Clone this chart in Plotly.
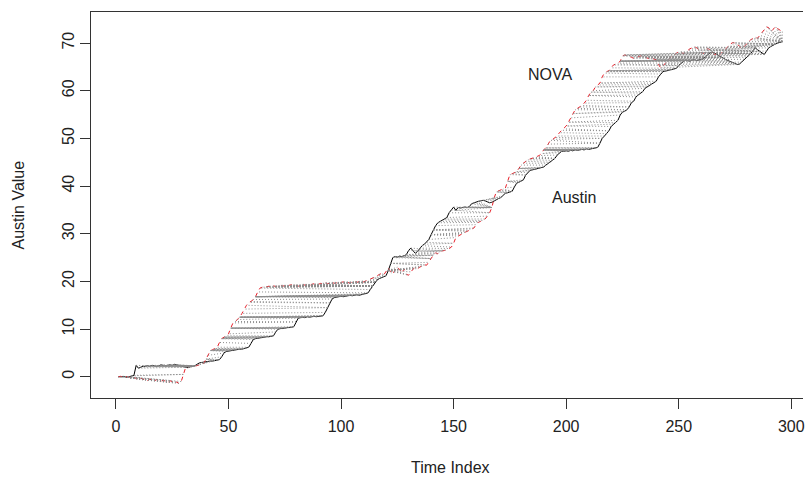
import numpy as np
import plotly.graph_objects as go

# Austin (query) and NOVA (reference) series, one value per time index
austin = [
    0.0, 0.0, 0.1, 0.0, -0.1, 0.0, 0.2, 0.3,
    2.4, 1.8, 2.0, 2.2,
    2.2, 2.3, 2.2, 2.4, 2.3, 2.2, 2.3, 2.5, 2.4, 2.3, 2.4, 2.5, 2.4, 2.6, 2.5, 2.4, 2.3, 2.2, 2.0, 1.9, 2.1, 2.2, 2.3,
    2.6, 2.9, 3.0, 3.1, 3.1,
    3.2, 3.3, 3.3, 3.4, 3.5, 3.6,
    4.2, 5.0, 5.3,
    5.4, 5.5, 5.6, 5.6, 5.7, 5.8, 5.8, 5.9, 6.0, 6.2,
    7.0, 7.8, 8.0,
    8.1, 8.2, 8.2, 8.3, 8.4, 8.4, 8.5, 8.6,
    9.4, 10.0,
    10.1, 10.1, 10.2, 10.3, 10.3, 10.4, 10.5,
    11.5, 12.3,
    12.4, 12.5, 12.4, 12.6, 12.5, 12.6, 12.7, 12.6, 12.7, 12.8, 12.8,
    13.5, 14.5, 15.5, 16.3, 16.6,
    16.7, 16.8, 16.9, 16.8, 16.9, 17.0, 17.1, 17.0, 17.1, 17.2, 17.1, 17.2, 17.3, 17.4, 17.6,
    18.3, 19.0, 19.8, 20.3, 20.6, 20.8, 21.0, 21.2,
    22.3, 23.8, 25.0, 25.2, 25.1, 25.3, 25.2, 25.4, 25.6,
    26.5, 27.0, 26.4, 25.9, 26.3, 27.0, 27.5, 27.8, 28.2,
    28.8, 29.8, 30.8, 31.7, 32.3, 32.6, 32.9, 33.1, 33.4,
    34.4, 35.0, 35.6, 34.9, 35.5, 35.4, 35.5, 35.6, 35.5, 35.7,
    36.3, 36.5, 36.6, 36.8, 36.9, 37.0, 36.9, 36.7, 36.5, 36.6, 36.9, 37.2, 37.4,
    37.6, 38.0, 38.5, 38.6, 38.7, 38.9, 39.8, 40.6, 40.8, 41.0, 41.3,
    42.3, 42.9, 43.3, 43.4, 43.5, 43.6, 43.8, 43.9, 44.0, 44.4, 44.8,
    45.0, 45.4, 45.8, 46.5, 47.0, 47.3,
    47.3, 47.4, 47.3, 47.5, 47.4, 47.6, 47.5, 47.6, 47.7, 47.6, 47.8, 47.7, 47.8, 47.9, 48.0, 48.1,
    49.0, 50.0, 50.5, 51.0, 51.6, 52.5, 53.0, 53.3, 53.8,
    54.9, 55.5, 55.7, 56.0, 56.6, 57.5, 57.8, 58.7, 59.1, 59.5,
    59.8, 60.5, 60.8, 61.0, 61.3, 61.6, 62.0, 62.9, 63.5, 64.0,
    64.1, 64.2, 64.3, 64.4, 64.5, 64.7, 65.3, 65.8, 66.1, 66.4,
    66.3, 66.2, 66.4, 66.5, 66.3, 66.4, 66.6, 66.7, 67.2, 67.7, 68.0,
    68.1, 67.9, 67.6, 67.3, 67.0, 66.8, 66.5, 66.3, 66.1, 65.9, 65.7,
    65.5, 65.6, 66.0, 66.6, 67.0, 67.3, 67.8, 68.4, 69.0, 68.6, 68.2, 67.8,
    67.6, 68.3, 69.0, 69.3, 69.6, 69.8, 70.0, 70.2, 70.3,
]

nova = [
    0.0, 0.1, 0.0, 0.1, 0.0, -0.1, 0.0, -0.2,
    -0.3, -0.5, -0.2, -0.6, -0.4, -0.8, -0.5, -0.7, -0.9, -0.6, -0.8, -1.0, -0.7, -0.9, -1.2, -0.8, -1.0, -1.3, -1.1, -1.4, -1.0,
    0.5, 2.0, 2.1, 2.2, 2.3, 2.2, 2.4, 2.5, 2.6, 2.8,
    3.7, 4.5, 5.5, 5.7, 5.9, 6.2, 7.2, 8.0, 8.3, 8.6, 9.0,
    10.2, 11.3, 11.6, 12.0, 12.5, 13.3, 14.2, 15.0, 15.6, 15.8, 16.2, 16.8, 17.8, 18.6,
    18.8, 18.7, 18.9, 19.0, 18.8, 19.1, 18.9, 19.0, 19.2, 19.0,
    19.1, 18.9, 19.2, 19.3, 19.1, 19.2, 19.0, 19.3, 19.4, 19.2,
    19.3, 19.1, 19.4, 19.5, 19.3, 19.4, 19.6, 19.5, 19.7, 19.5,
    19.6, 19.8, 19.6, 19.7, 19.5, 19.8, 19.9, 19.7, 19.8, 19.6,
    19.9, 20.0, 19.8, 20.0, 20.1, 19.9, 20.1, 20.2,
    20.4, 20.7, 20.9, 21.2, 21.5, 21.7,
    21.4, 22.2, 22.8, 22.0, 21.6, 22.4, 23.0, 22.5, 21.8, 22.6, 21.5, 21.3, 22.0, 22.6, 22.9, 22.7, 23.0,
    23.2, 23.5, 23.4, 24.0, 24.8, 25.5, 26.0, 25.8, 26.2, 26.4, 26.5, 26.6, 26.9, 27.2,
    28.0, 29.2, 29.5, 29.8, 30.1, 30.3, 30.5, 30.7, 31.0, 31.2,
    31.9, 32.4, 32.6, 32.8, 33.1, 33.7, 34.4, 35.5, 37.5, 38.8,
    39.0, 39.2, 39.4, 39.6, 41.0, 42.4, 42.6, 42.8, 43.0, 43.7, 44.4, 44.8, 45.2,
    45.5, 45.7, 45.8, 46.0, 46.2, 46.4, 46.8, 47.6, 48.0, 48.8, 49.6,
    49.8, 50.2, 50.5, 51.2, 51.7, 52.0, 52.6, 53.4, 54.3, 55.2, 56.0,
    56.3, 56.6, 56.9, 57.4, 58.0, 59.0, 59.7, 60.0, 60.8, 61.2, 61.6,
    62.9, 63.7, 64.0, 64.2, 64.8, 65.4, 65.6, 65.8, 66.2, 67.3, 67.5,
    67.4, 67.2, 67.0, 66.8, 66.9, 67.1, 67.3, 67.2, 67.0, 66.9, 66.7, 66.8, 66.6, 66.5,
    65.5, 64.8, 65.2, 65.8, 66.4, 66.8, 67.2, 67.6, 67.9, 68.2, 68.0, 67.8, 68.1, 68.5, 68.8,
    69.0, 69.2, 69.0, 68.5, 68.0, 67.8, 68.4, 68.9, 68.4, 67.9, 67.6,
    67.8, 67.5, 67.9, 68.3, 68.8, 69.3, 69.8, 70.1, 70.0, 69.8, 69.3, 68.9, 69.2, 69.8,
    70.3, 70.7, 71.0, 71.2, 71.0, 71.6, 72.2, 72.8, 73.4, 73.2, 72.4, 72.9, 73.5, 73.0, 72.6, 72.4,
]

x_ticks = [0, 50, 100, 150, 200, 250, 300]
y_ticks = [0, 10, 20, 30, 40, 50, 60, 70]


def dtw_path(q, r):
    """Symmetric2 dynamic time warping; returns the list of matched (i, j)."""
    n, m = len(q), len(r)
    d = [[abs(a - b) for b in r] for a in q]
    inf = float("inf")
    g = [[inf] * m for _ in range(n)]
    g[0][0] = d[0][0]
    for i in range(n):
        gi, di = g[i], d[i]
        gp = g[i - 1] if i > 0 else None
        for j in range(m):
            if i == 0 and j == 0:
                continue
            c = di[j]
            best = inf
            if gp is not None:
                best = gp[j] + c
                if j > 0 and gp[j - 1] + 2 * c < best:
                    best = gp[j - 1] + 2 * c
            if j > 0 and gi[j - 1] + c < best:
                best = gi[j - 1] + c
            gi[j] = best
    i, j = n - 1, m - 1
    path = [(i, j)]
    while i > 0 or j > 0:
        cands = []
        if i > 0 and j > 0:
            cands.append((g[i - 1][j - 1], i - 1, j - 1))
        if i > 0:
            cands.append((g[i - 1][j], i - 1, j))
        if j > 0:
            cands.append((g[i][j - 1], i, j - 1))
        _, i, j = min(cands)
        path.append((i, j))
    return path[::-1]


t_a = list(range(1, len(austin) + 1))
t_n = list(range(1, len(nova) + 1))

seg_x, seg_y = [], []
for i, j in dtw_path(austin, nova):
    seg_x += [t_a[i], t_n[j], None]
    seg_y += [austin[i], nova[j], None]

fig = go.Figure()
fig.add_trace(go.Scatter(x=t_a, y=austin, mode="lines", name="Austin",
                         line=dict(color="black", width=1)))
fig.add_trace(go.Scatter(x=t_n, y=nova, mode="lines", name="NOVA",
                         line=dict(color="#E8202A", width=1, dash="4px,4px")))
fig.add_trace(go.Scatter(x=seg_x, y=seg_y, mode="lines", name="matches",
                         line=dict(color="#8C8C8C", width=1, dash="1px,2px")))

font = dict(family="Liberation Sans, Arial, sans-serif", size=16, color="#222222")

fig.update_layout(
    width=805, height=482,
    margin=dict(l=91, r=0, t=12, b=84),
    paper_bgcolor="white", plot_bgcolor="white",
    showlegend=False,
    font=font,
    xaxis=dict(range=[-11.07, 305.2], tickvals=x_ticks, ticks="outside", ticklen=10,
               tickcolor="#333", showgrid=False, zeroline=False,
               showline=True, linecolor="#333", linewidth=1, mirror=True,
               tickfont=font, ticklabelstandoff=4, ticklabeloverflow="allow"),
    yaxis=dict(range=[-4.45, 76.51], tickvals=y_ticks, ticks="outside", ticklen=10,
               tickcolor="#333", showgrid=False, zeroline=False,
               showline=True, linecolor="#333", linewidth=1, mirror=False,
               tickangle=-90, tickfont=font, ticklabelstandoff=0),
    annotations=[
        dict(x=192.6, y=63.5, text="NOVA", showarrow=False, font=font,
             xanchor="center", yanchor="middle"),
        dict(x=203.3, y=37.5, text="Austin", showarrow=False, font=font,
             xanchor="center", yanchor="middle"),
        dict(x=148.5, xref="x", y=-0.18, yref="paper", text="Time Index",
             showarrow=False, font=font, xanchor="center", yanchor="middle"),
        dict(x=-0.102, xref="paper", y=36.0, yref="y", text="Austin Value",
             showarrow=False, font=font, textangle=-90,
             xanchor="center", yanchor="middle"),
    ],
)

fig.write_html("out.html")
